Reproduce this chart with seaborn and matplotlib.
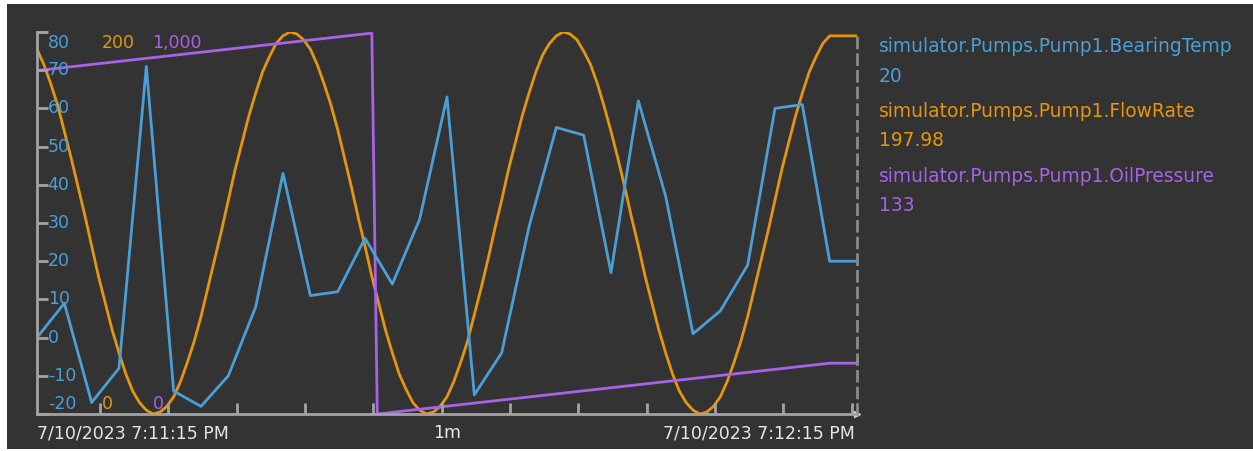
import numpy as np
import pandas as pd
import matplotlib
matplotlib.use("Agg")
import matplotlib.pyplot as plt
import matplotlib.dates as mdates
from matplotlib.patches import Rectangle
import seaborn as sns

# --- data ---
start = pd.Timestamp("2023-07-10 19:11:15.4")
span_s = 60

bearing_temp = [0, 9, -17, -8, 71, -14, -18, -10, 8, 43, 11, 12, 26, 14, 31, 63,
                -15, -4, 29, 55, 53, 17, 62, 37, 1, 7, 19, 60, 61, 20, 20]
bearing_step_s = 2

flow_rate = [191, 183, 173, 162, 148, 134, 119, 104, 88, 72, 58, 44, 32, 21, 12, 6, 2, 0, 1, 4,
             9, 17, 27, 38, 51, 66, 81, 96, 112, 128, 142, 156, 168, 179, 187, 194, 198, 200, 199, 196,
             191, 183, 173, 162, 149, 134, 119, 103, 88, 72, 58, 44, 32, 21, 13, 6, 2, 0, 1, 4,
             9, 17, 27, 38, 52, 66, 81, 97, 112, 128, 142, 156, 168, 179, 188, 194, 198, 200, 199, 196,
             190, 183, 173, 161, 148, 134, 119, 103, 88, 72, 58, 44, 32, 21, 12, 6, 2, 0, 1, 4,
             9, 17, 27, 38, 51, 66, 81, 96, 112, 128, 142, 156, 168, 179, 187, 194,
             197.98, 197.98, 197.98, 197.98, 197.98]
flow_step_s = 0.5

oil_offsets_s = [0, 24.5, 24.9, 58.0, 60.0]
oil_pressure = [899, 997, 0, 133, 133]

names = ["simulator.Pumps.Pump1.BearingTemp",
         "simulator.Pumps.Pump1.FlowRate",
         "simulator.Pumps.Pump1.OilPressure"]
colors = ["#4a9fd8", "#e4960e", "#a862e6"]
ylims = [(-20, 80), (0, 200), (0, 1000)]
blue_ticks = [-20, -10, 0, 10, 20, 30, 40, 50, 60, 70, 80]

# --- build frames ---
df_b = pd.DataFrame({"time": start + pd.to_timedelta(np.arange(len(bearing_temp)) * bearing_step_s, unit="s"),
                     "value": bearing_temp})
df_f = pd.DataFrame({"time": start + pd.to_timedelta(np.arange(len(flow_rate)) * flow_step_s, unit="s"),
                     "value": flow_rate})
df_o = pd.DataFrame({"time": start + pd.to_timedelta(oil_offsets_s, unit="s"),
                     "value": oil_pressure})
end = start + pd.Timedelta(seconds=span_s)

sns.set_theme(style="dark")
plt.rcParams["font.family"] = ["DejaVu Sans"]

W, H = 1253, 451
fig = plt.figure(figsize=(W / 100, H / 100), dpi=100, facecolor="white")


def fx(x):
    return x / W


def fy(y):
    return 1 - y / H


# dark panel
fig.patches.append(Rectangle((fx(7), fy(449)), fx(W) - fx(7), fy(4) - fy(449),
                             transform=fig.transFigure, facecolor="#333333", edgecolor="none", zorder=0))

rect = [fx(37), fy(414), fx(857) - fx(37), fy(32) - fy(414)]
bg = fig.add_axes(rect, zorder=0)
bg.set_facecolor("#2e312f")
bg.set_xticks([])
bg.set_yticks([])
for s in bg.spines.values():
    s.set_visible(False)

ax = fig.add_axes(rect, zorder=3)
ax.patch.set_visible(False)
ax_f = ax.twinx()
ax_o = ax.twinx()
ax_f.set_zorder(1)
ax_o.set_zorder(2)

sns.lineplot(data=df_f, x="time", y="value", ax=ax_f, color=colors[1], linewidth=2, estimator=None)
sns.lineplot(data=df_o, x="time", y="value", ax=ax_o, color=colors[2], linewidth=2, estimator=None)
sns.lineplot(data=df_b, x="time", y="value", ax=ax, color=colors[0], linewidth=2, estimator=None)

gray = "#a3a3a3"
for a, lim in zip([ax, ax_f, ax_o], ylims):
    a.set_ylim(*lim)
    a.set_xlim(start, end)
    a.set_xlabel("")
    a.set_ylabel("")
    a.grid(False)
    for s in a.spines.values():
        s.set_visible(False)
for a in [ax_f, ax_o]:
    a.patch.set_visible(False)
    a.set_yticks([])
    a.tick_params(axis="both", which="both", length=0, labelright=False, labelleft=False)

ax.spines["left"].set_visible(True)
ax.spines["bottom"].set_visible(True)
ax.spines["right"].set_visible(True)
ax.spines["left"].set_color(gray)
ax.spines["bottom"].set_color(gray)
ax.spines["left"].set_linewidth(2)
ax.spines["bottom"].set_linewidth(2)
ax.spines["right"].set_color("#8a8a8a")
ax.spines["right"].set_linewidth(2)
ax.spines["right"].set_linestyle((0, (3.5, 2.5)))

ax.set_yticks(blue_ticks)
ax.xaxis.set_major_locator(mdates.SecondLocator(bysecond=range(0, 60, 5)))
ax.tick_params(axis="both", direction="in", length=8, width=2, color=gray,
               labelleft=False, labelbottom=False, left=True, bottom=True)
ax.plot([0, 0.01], [1, 1], transform=ax.transAxes, color=gray, lw=2, clip_on=False,
        solid_capstyle="butt")
ax.plot(1, 0, marker=">", ms=5, color="#d0d0d0", transform=ax.transAxes, clip_on=False)

fs = 12.5
# blue scale labels inside the plot
ymin, ymax = ylims[0]
for v in blue_ticks:
    frac = (v - ymin) / (ymax - ymin)
    frac = min(max(frac, 0.027), 0.97)
    ax.text(0.013, frac, f"{v}", transform=ax.transAxes, color=colors[0],
            fontsize=fs, ha="left", va="center")
# flow and oil scale labels (top and bottom only)
for (lo, hi), xpos, c in [(ylims[1], 0.079, colors[1]), (ylims[2], 0.141, colors[2])]:
    ax.text(xpos, 0.97, f"{hi:,}", transform=ax.transAxes, color=c, fontsize=fs, ha="left", va="center")
    ax.text(xpos, 0.027, f"{lo:,}", transform=ax.transAxes, color=c, fontsize=fs, ha="left", va="center")


def stamp(t):
    h = t.hour % 12 or 12
    ampm = "PM" if t.hour >= 12 else "AM"
    return f"{t.month}/{t.day}/{t.year} {h}:{t.minute:02d}:{t.second:02d} {ampm}"


lab_c = "#e6e6e6"
fig.text(fx(37), fy(433), stamp(start), color=lab_c, fontsize=fs, ha="left", va="center")
fig.text(fx(855), fy(433), stamp(end), color=lab_c, fontsize=fs, ha="right", va="center")
fig.text(fx(447), fy(433), f"{span_s // 60}m", color=lab_c, fontsize=fs, ha="center", va="center")

# legend on the right
last_vals = [bearing_temp[-1], flow_rate[-1], oil_pressure[-1]]
y0 = 47
for name, val, c in zip(names, last_vals, colors):
    fig.text(fx(879), fy(y0), name, color=c, fontsize=13.4, ha="left", va="center")
    fig.text(fx(879), fy(y0 + 29), f"{val:g}", color=c, fontsize=13.4, ha="left", va="center")
    y0 += 64.5

fig.savefig("out.png", dpi=100, facecolor="white")
